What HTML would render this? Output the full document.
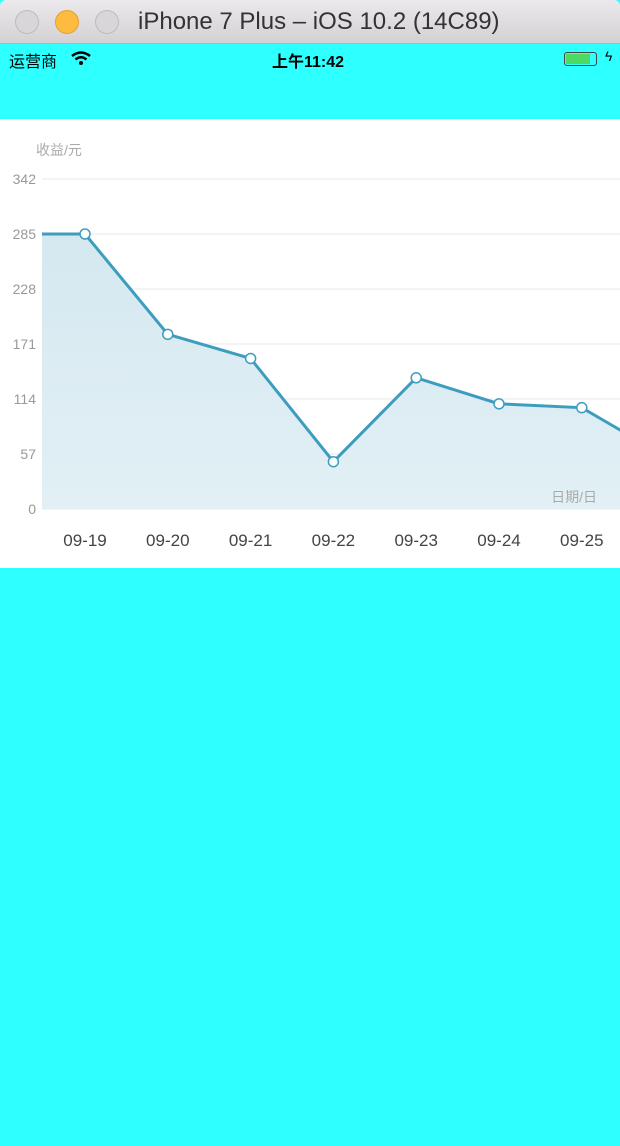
<!DOCTYPE html>
<html><head><meta charset="utf-8">
<style>
*{margin:0;padding:0;box-sizing:border-box}
body{width:620px;height:1146px;background:#2effff;font-family:"Liberation Sans","Noto Sans CJK SC",sans-serif;position:relative;overflow:hidden}
#titlebar{position:absolute;left:0;top:0;width:620px;height:44px;background:linear-gradient(#ebe9eb,#d3d1d3);border-bottom:1px solid #b5b3b5;border-radius:6px 6px 0 0}
.dot{position:absolute;top:10px;width:24px;height:24px;border-radius:50%;background:#d8d6d8;border:1px solid #bdbbbd}
#title{position:absolute;left:138px;top:8px;font-size:24px;color:#333}
#status{position:absolute;top:44px;left:0;width:620px;height:32px;font-size:16px}
#chartpanel{position:absolute;left:0;top:119px;width:620px;height:449px;background:#fff}
</style></head><body>
<div id="titlebar">
 <div class="dot" style="left:15px"></div>
 <div class="dot" style="left:55px;background:#fdbc40;border-color:#e0a230"></div>
 <div class="dot" style="left:95px"></div>
 <div id="title">iPhone 7 Plus – iOS 10.2 (14C89)</div>
</div>
<div id="status">
 <span style="position:absolute;left:9px;top:4px">运营商</span>
 <svg style="position:absolute;left:71px;top:7px" width="20" height="14"><path d="M1 5 Q10 -2 19 5" stroke="#000" stroke-width="2.5" fill="none"/><path d="M4.5 8.5 Q10 4 15.5 8.5" stroke="#000" stroke-width="2.5" fill="none"/><circle cx="10" cy="12" r="2" fill="#000"/></svg>
 <span style="position:absolute;left:272px;top:4px;font-weight:bold">上午11:42</span>
 <div style="position:absolute;left:564px;top:8px;width:33px;height:14px;border:1px solid #444;border-radius:3px;padding:1px"><div style="width:24px;height:10px;background:#4cd964"></div></div>
 <span style="position:absolute;left:605px;top:4px;font-size:14px">ϟ</span>
</div>
<div id="chartpanel">
<svg id="chart" width="620" height="449"></svg>
</div>
<script>
const categories=["09-18","09-19","09-20","09-21","09-22","09-23","09-24","09-25","09-26"];
const values=[285,285,181,156,49,136,109,105,55];
const yTicks=[0,57,114,171,228,285,342];
const OFF=119;
const svg=document.getElementById('chart');
const NS='http://www.w3.org/2000/svg';
function y(v){return 509-OFF-v*330/342;}
function x(i){return 85+(i-1)*82.8;}
function mk(t,a){const e=document.createElementNS(NS,t);for(const k in a)e.setAttribute(k,a[k]);svg.appendChild(e);return e;}
const defs=mk('defs',{});
defs.innerHTML='<linearGradient id="g" x1="0" y1="0" x2="0" y2="1"><stop offset="0" stop-color="#d5e8f0"/><stop offset="1" stop-color="#e2f0f5"/></linearGradient><clipPath id="c"><rect x="42" y="0" width="578" height="449"/></clipPath>';
yTicks.forEach(v=>{
 const l=mk('line',{x1:42,x2:620,y1:y(v),y2:y(v),stroke:'#e8eaee','stroke-width':1});
 
 
 const t=mk('text',{x:36,y:y(v)+5,'text-anchor':'end','font-size':14,fill:'#999'});
 t.textContent=v;
 
 
});
let pts=values.map((v,i)=>x(i)+','+y(v)).join(' ');
const area=mk('polygon',{points:x(0)+','+y(0)+' '+pts+' '+x(values.length-1)+','+y(0),fill:'url(#g)','clip-path':'url(#c)'});


const line=mk('polyline',{points:pts,fill:'none',stroke:'#3d9dbf','stroke-width':3,'clip-path':'url(#c)'});


values.forEach((v,i)=>{
 if(i<1||i>7)return;
 const c=mk('circle',{cx:x(i),cy:y(v),r:5,fill:'#fff',stroke:'#3d9dbf','stroke-width':1.5});
 
 
 const t=mk('text',{x:x(i),y:427,'text-anchor':'middle','font-size':17,fill:'#444'});
 t.textContent=categories[i];
 
 
});
const yt=mk('text',{x:36,y:36,'font-size':14,fill:'#aaa'});yt.textContent='收益/元';


const xt=mk('text',{x:597,y:383,'text-anchor':'end','font-size':14,fill:'#aaa'});xt.textContent='日期/日';


</script>
</body></html>
